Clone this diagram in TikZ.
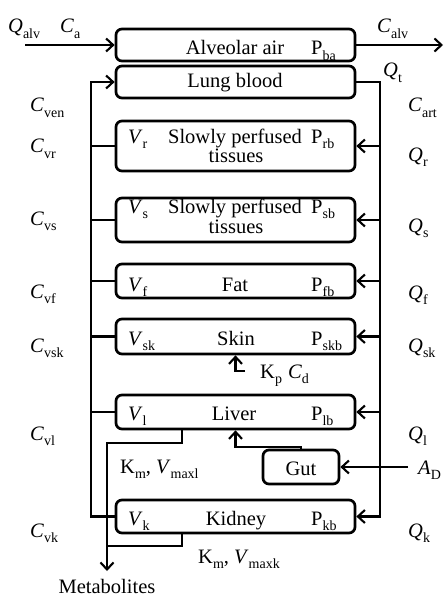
\documentclass[tikz,border=0pt]{standalone}
\usepackage{fontspec}
\setmainfont{Liberation Serif}
\usetikzlibrary{arrows.meta,calc}
\newcommand\lsub[1]{\raisebox{-0.26em}{\fontsize{14}{14}\selectfont #1}}
\begin{document}
\begin{tikzpicture}[x=1pt,y=-1pt,
  every node/.style={font=\fontsize{20.5}{20}\selectfont, inner sep=0pt},
  comp/.style={draw, line width=2.7pt, rounded corners=6pt, minimum width=239pt},
  txt/.style={anchor=base},
  txtw/.style={anchor=base west},
  wire/.style={line width=2.1pt},
  arr/.style={wire, -{Straight Barb[length=7pt,width=13pt,line width=2.1pt]}}
]
\useasboundingbox (0,0) rectangle (444,596);

% compartments
\node[comp, minimum height=32pt] (alv) at (235.5,45) {};
\node[comp, minimum height=32pt] (lung) at (235.5,82) {};
\node[comp, minimum height=50pt] (rich) at (235.5,146) {};
\node[comp, minimum height=44pt] (slow) at (235.5,220) {};
\node[comp, minimum height=34pt] (fat) at (235.5,281) {};
\node[comp, minimum height=35pt] (skin) at (235.5,336.5) {};
\node[comp, minimum height=34pt] (liver) at (235.5,412) {};
\node[comp, minimum height=33pt] (kid) at (235.5,516.5) {};
\node[comp, minimum width=76pt, minimum height=34pt] (gut) at (301,467) {};

% texts inside compartments
\node[txt] (talv) at (235,55) {Alveolar air};
\node[txtw] (pba) at (311,55) {P\lsub{ba}};
\node[txt] (tlung) at (235,88) {Lung blood};
\node[txtw] (vr) at (128,143) {\textit{V}\lsub{r}};
\node[txt] (tr1) at (235,143) {Slowly perfused};
\node[txt] (tr2) at (236,162) {tissues};
\node[txtw] (prb) at (311,143) {P\lsub{rb}};
\node[txtw] (vs) at (128,213) {\textit{V}\lsub{s}};
\node[txt] (ts1) at (235,213) {Slowly perfused};
\node[txt] (ts2) at (236,233) {tissues};
\node[txtw] (psb) at (311,213) {P\lsub{sb}};
\node[txtw] (vf) at (128,291) {\textit{V}\lsub{f}};
\node[txt] (tfat) at (235,291) {Fat};
\node[txtw] (pfb) at (311,291) {P\lsub{fb}};
\node[txtw] (vsk) at (128,345) {\textit{V}\lsub{sk}};
\node[txt] (tskin) at (236,345) {Skin};
\node[txtw] (pskb) at (311,345) {P\lsub{skb}};
\node[txtw] (vl) at (128,420) {\textit{V}\lsub{l}};
\node[txt] (tliv) at (234,420) {Liver};
\node[txtw] (plb) at (311,420) {P\lsub{lb}};
\node[txt] (tgut) at (301,475) {Gut};
\node[txtw] (vk) at (128,525) {\textit{V}\lsub{k}};
\node[txt] (tkid) at (236,525) {Kidney};
\node[txtw] (pkb) at (311,525) {P\lsub{kb}};

% outside labels
\node[txtw] (qalv) at (8,33) {\textit{Q}\lsub{alv}};
\node[txtw] (ca) at (60,33) {\textit{C}\lsub{a}};
\node[txtw] (calv) at (377,33) {\textit{C}\lsub{alv}};
\node[txtw] (qt) at (383,77) {\textit{Q}\lsub{t}};
\node[txtw] (cven) at (30,112) {\textit{C}\lsub{ven}};
\node[txtw] (cart) at (408,112) {\textit{C}\lsub{art}};
\node[txtw] (cvr) at (30,153) {\textit{C}\lsub{vr}};
\node[txtw] (qr) at (408,161) {\textit{Q}\lsub{r}};
\node[txtw] (cvs) at (30,225) {\textit{C}\lsub{vs}};
\node[txtw] (qs) at (408,232) {\textit{Q}\lsub{s}};
\node[txtw] (cvf) at (30,298) {\textit{C}\lsub{vf}};
\node[txtw] (qf) at (408,299) {\textit{Q}\lsub{f}};
\node[txtw] (cvsk) at (30,352) {\textit{C}\lsub{vsk}};
\node[txtw] (qsk) at (408,352) {\textit{Q}\lsub{sk}};
\node[txtw] (kpcd) at (260,378) {K\lsub{p}\hspace{6pt}\textit{C}\lsub{d}};
\node[txtw] (cvl) at (30,440) {\textit{C}\lsub{vl}};
\node[txtw] (ql) at (408,440) {\textit{Q}\lsub{l}};
\node[txtw] (kml) at (120,473) {K\lsub{m}, \textit{V}\lsub{maxl}};
\node[txtw] (ad) at (418,474) {\textit{A}\lsub{D}};
\node[txtw] (cvk) at (30,537) {\textit{C}\lsub{vk}};
\node[txtw] (qk) at (408,537) {\textit{Q}\lsub{k}};
\node[txtw] (kmk) at (198,563) {K\lsub{m}, \textit{V}\lsub{maxk}};
\node[txt] (met) at (107,593) {Metabolites};

% helper coordinates
\coordinate (busL) at (91,0);
\coordinate (busR) at (380,0);
\coordinate (inA) at (25,45);
\coordinate (outA) at (443,45);
\coordinate (kpc) at (245,371);
\coordinate (lj) at (107,443);
\coordinate (kj) at (107,546);
\coordinate (metend) at (107,571);
\coordinate (gl) at (0,447);
\coordinate (adin) at (408,467);

% air
\draw[arr] (inA) -- (alv.west);
\draw[arr] (alv.east) -- (outA);

% venous bus
\draw[arr] (kid.west) -- (kid.west -| busL) -- (lung.west -| busL) -- (lung.west);
\foreach \b in {rich,slow,fat,skin,liver}
  \draw[wire] (busL |- \b.west) -- (\b.west);

% arterial bus
\draw[arr] (lung.east) -- (lung.east -| busR) -- (kid.east -| busR) -- (kid.east);
\foreach \b in {rich,slow,fat,skin,liver}
  \draw[arr] (busR |- \b.east) -- (\b.east);

% dermal input
\draw[arr] (kpc) -- (kpc -| skin.south) -- (skin.south);

% metabolism
\draw[arr] ([xshift=-53.5pt]liver.south) |- (lj) -- (metend);
\draw[wire] ([xshift=-53.5pt]kid.south) |- (kj);

% gut
\draw[arr] (gut.north) |- (liver.south |- gl) -- (liver.south);
\draw[arr] (adin) -- (gut.east);
\end{tikzpicture}
\end{document}
